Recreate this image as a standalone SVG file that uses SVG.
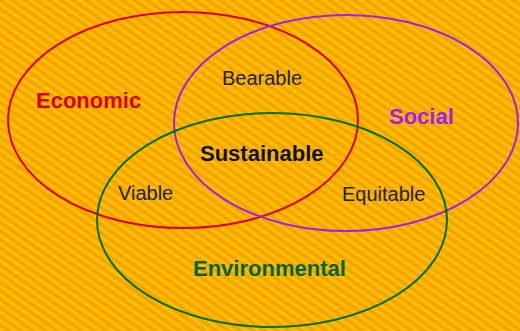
<svg xmlns="http://www.w3.org/2000/svg" width="520" height="331" viewBox="0 0 520 331">
<defs>
<linearGradient id="band" x1="0" y1="0" x2="0" y2="1">
<stop offset="0" stop-color="#F39C00"/>
<stop offset="0.5" stop-color="#FFC400"/>
<stop offset="1" stop-color="#F39C00"/>
</linearGradient>
<pattern id="stripes" width="7" height="7" patternUnits="userSpaceOnUse" patternTransform="rotate(35)">
<rect width="7" height="7" fill="url(#band)"/>
</pattern>
<style>
.ring{fill:none;stroke-width:2}
.big{font-family:"Liberation Sans",Arial,sans-serif;font-size:22px;font-weight:bold}
.small{font-family:"Liberation Sans",Arial,sans-serif;font-size:20px;fill:#222}
</style>
</defs>
<rect width="520" height="331" fill="url(#stripes)"/>
<g id="economic">
<ellipse class="ring" cx="183" cy="120" rx="175" ry="108" stroke="#DD0000"/>
<text class="big" x="36" y="108" fill="#DD0000">Economic</text>
</g>
<g id="social">
<ellipse class="ring" cx="346" cy="123" rx="172" ry="108" stroke="#A020F0"/>
<text class="big" x="389" y="124" fill="#A020F0">Social</text>
</g>
<g id="environmental">
<ellipse class="ring" cx="272" cy="220" rx="175" ry="107" stroke="#007000"/>
<text class="big" x="193" y="276" fill="#006633">Environmental</text>
</g>
<g id="bearable"><text class="small" x="222" y="85">Bearable</text></g>
<g id="sustainable"><text class="big" x="200" y="161" fill="#111">Sustainable</text></g>
<g id="viable"><text class="small" x="118" y="200">Viable</text></g>
<g id="equitable"><text class="small" x="342" y="201">Equitable</text></g>
<g id="connectors"></g>
</svg>
